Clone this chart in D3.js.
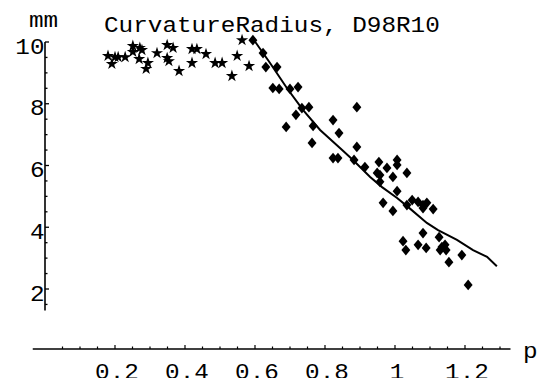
<!DOCTYPE html>
<html><head><meta charset="utf-8">
<script src="https://cdn.jsdelivr.net/npm/d3@7"></script>
<style>html,body{margin:0;padding:0;background:#fff;}svg{display:block;}</style>
</head><body>
<svg id="c" width="545" height="378"></svg>
<script>
// ---- data ----
const titleText = "CurvatureRadius, D98R10";
const yUnit = "mm";
const xUnit = "p";
const xTickLabels = [0.2, 0.4, 0.6, 0.8, 1, 1.2];
const yTickLabels = [2, 4, 6, 8, 10];
// star series (p, radius)
const starP = [0.180,0.200,0.191,0.209,0.229,0.251,0.251,0.271,0.277,0.269,0.289,0.294,0.320,0.349,0.366,0.349,0.354,0.383,0.420,0.434,0.460,0.420,0.486,0.506,0.534,0.549,0.563,0.583];
const starR = [9.55,9.51,9.29,9.51,9.51,9.87,9.68,9.81,9.74,9.45,9.13,9.32,9.64,9.90,9.81,9.48,9.38,9.06,9.77,9.77,9.61,9.32,9.32,9.32,8.90,9.55,10.06,9.22];
// diamond series
const diaP = [0.594,0.623,0.631,0.663,0.651,0.669,0.700,0.723,0.734,0.754,0.717,0.689,0.766,0.823,0.840,0.891,0.763,0.823,0.837,0.891,0.883,0.914,0.954,1.006,1.006,0.977,0.957,0.949,0.994,0.957,1.034,1.006,0.966,0.994,1.034,1.049,1.066,1.080,1.091,1.080,1.109,1.080,1.023,1.031,1.066,1.089,1.126,1.134,1.143,1.129,1.146,1.154,1.191,1.209];
const diaR = [10.06,9.64,9.19,9.19,8.51,8.48,8.48,8.54,7.86,7.89,7.64,7.25,7.28,7.47,7.05,7.89,6.73,6.24,6.24,6.60,6.18,5.95,6.11,6.18,6.02,5.92,5.69,5.76,5.63,5.47,5.76,5.17,4.79,4.53,4.72,4.88,4.82,4.72,4.79,4.62,4.59,3.81,3.55,3.26,3.43,3.33,3.68,3.36,3.43,3.26,3.26,2.87,3.10,2.13];
// fitted curve
const fitP = [0.591,0.643,0.691,0.737,0.786,0.849,0.880,0.929,0.963,1.006,1.037,1.091,1.123,1.177,1.223,1.263,1.291];
const fitR = [10.16,9.32,8.51,7.80,7.15,6.50,6.18,5.63,5.30,4.95,4.66,4.14,3.91,3.59,3.26,3.04,2.74];

// ---- layout ----
const svg = d3.select("#c");
const x = d3.scaleLinear().domain([0, 1]).range([45, 395]);
const y = d3.scaleLinear().domain([2, 10]).range([289, 42]);
const font = "'Liberation Mono', 'Courier New', monospace";
const adv = 14.6;   // horizontally stretched Courier advance
function mono(sel, size) {
  return sel.attr("font-family", font).attr("font-size", size)
    .attr("textLength", d => String(d).length * adv).attr("lengthAdjust", "spacingAndGlyphs");
}

// y axis
const yAxisX = x(0);
svg.append("line").attr("x1", yAxisX).attr("x2", yAxisX)
  .attr("y1", y(10)).attr("y2", y(1.3)).attr("stroke", "#000").attr("stroke-width", 1.6);
const yMinor = d3.range(1.5, 10.01, 0.5);
svg.selectAll(".yt").data(yMinor).enter().append("line")
  .attr("x1", yAxisX).attr("x2", d => yAxisX + (Math.abs(d % 2) < 1e-6 ? 4 : 2.5))
  .attr("y1", d => y(d)).attr("y2", d => y(d)).attr("stroke", "#000").attr("stroke-width", 1.3);
mono(svg.selectAll(".yl").data(yTickLabels).enter().append("text")
  .attr("x", yAxisX - 0.5).attr("y", d => y(d) + 11.5)
  .attr("text-anchor", "end"), 22)
  .text(d => d);

// x axis
const xAxisY = 349;
svg.append("line").attr("x1", x(-0.035)).attr("x2", x(1.33))
  .attr("y1", xAxisY).attr("y2", xAxisY).attr("stroke", "#000").attr("stroke-width", 1.6);
const xMinor = d3.range(0.05, 1.301, 0.05);
svg.selectAll(".xt").data(xMinor).enter().append("line")
  .attr("x1", d => x(d)).attr("x2", d => x(d))
  .attr("y1", xAxisY).attr("y2", d => xAxisY - (Math.abs((d * 5) - Math.round(d * 5)) < 1e-6 ? 4 : 2.5))
  .attr("stroke", "#000").attr("stroke-width", 1.2);
mono(svg.selectAll(".xl").data(xTickLabels).enter().append("text")
  .attr("x", d => x(d) + 2).attr("y", 379)
  .attr("text-anchor", "middle"), 21.5)
  .text(d => d);

// labels
mono(svg.append("text").datum(xUnit).attr("x", 523).attr("y", 358), 22).text(xUnit);
mono(svg.append("text").datum(yUnit).attr("x", 29).attr("y", 27), 22).text(yUnit);
mono(svg.append("text").datum(titleText).attr("x", 104).attr("y", 32), 22).text(titleText);

// fit line
const line = d3.line().x(d => x(d[0])).y(d => y(d[1]));
svg.append("path").datum(fitP.map((p, i) => [p, fitR[i]]))
  .attr("d", line).attr("fill", "none").attr("stroke", "#000").attr("stroke-width", 2);

// stars
const star = d3.symbol().type(d3.symbolStar).size(46);
svg.selectAll(".st").data(starP.map((p, i) => [p, starR[i]])).enter().append("path")
  .attr("d", star).attr("transform", d => `translate(${x(d[0])},${y(d[1])})`).attr("fill", "#000");

// diamonds
const diamondType = { draw(ctx, size) { const w = Math.sqrt(size) * 0.5, h = w * 1.2;
  ctx.moveTo(0, -h); ctx.lineTo(w, 0); ctx.lineTo(0, h); ctx.lineTo(-w, 0); ctx.closePath(); } };
const diamond = d3.symbol().type(diamondType).size(80);
svg.selectAll(".dm").data(diaP.map((p, i) => [p, diaR[i]])).enter().append("path")
  .attr("d", diamond).attr("transform", d => `translate(${x(d[0])},${y(d[1])})`).attr("fill", "#000");
</script>
</body></html>
